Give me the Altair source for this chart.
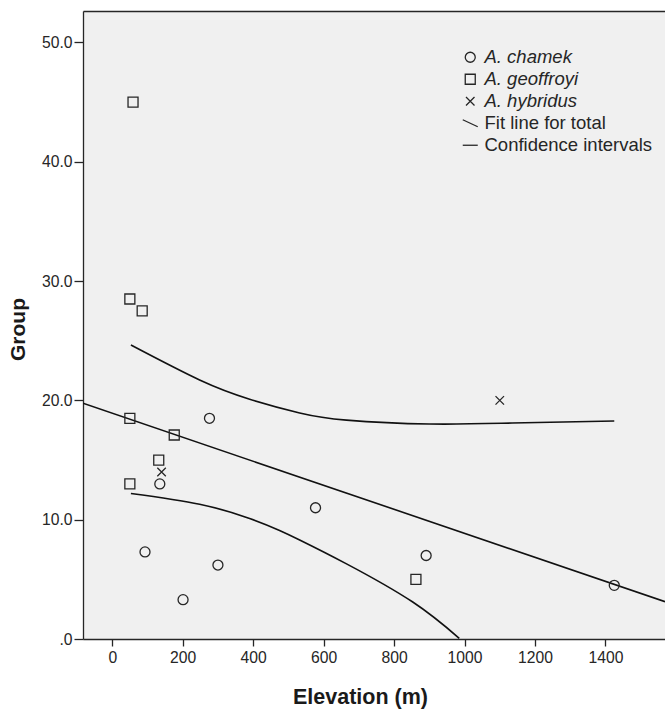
import altair as alt
import pandas as pd

# ---- data ----
chamek_x = [276, 135, 93, 300, 201, 577, 891, 1425]
chamek_y = [18.5, 13.0, 7.3, 6.2, 3.3, 11.0, 7.0, 4.5]
geoffroyi_x = [59, 50, 85, 50, 176, 132, 50, 862]
geoffroyi_y = [45.0, 28.5, 27.5, 18.5, 17.1, 15.0, 13.0, 5.0]
hybridus_x = [140, 1100]
hybridus_y = [14.0, 20.0]

fit_x = [-83, 1569]
fit_y = [19.76, 3.13]

ci_upper_x = [53, 248, 390, 532, 665, 900, 1135, 1425]
ci_upper_y = [24.64, 21.71, 20.1, 18.95, 18.35, 18.02, 18.1, 18.27]
ci_lower_x = [53, 248, 390, 475, 532, 665, 853, 985]
ci_lower_y = [12.2, 11.3, 10.1, 9.1, 8.3, 6.3, 3.1, 0.06]

series_names = ["A. chamek", "A. geoffroyi", "A. hybridus",
                "Fit line for total", "Confidence intervals"]
x_ticks = [0, 200, 400, 600, 800, 1000, 1200, 1400]
y_ticks = [0, 10, 20, 30, 40, 50]

# ---- tables ----
pts = pd.DataFrame({
    "elev": chamek_x + geoffroyi_x + hybridus_x,
    "group": chamek_y + geoffroyi_y + hybridus_y,
    "series": [series_names[0]] * len(chamek_x)
    + [series_names[1]] * len(geoffroyi_x)
    + [series_names[2]] * len(hybridus_x),
})
fit = pd.DataFrame({"elev": fit_x, "group": fit_y})
upper = pd.DataFrame({"elev": ci_upper_x, "group": ci_upper_y})
lower = pd.DataFrame({"elev": ci_lower_x, "group": ci_lower_y})

FONT = "Liberation Sans"
INK = "#262626"

xscale = alt.Scale(domain=[-83, 1569], nice=False, zero=False)
yscale = alt.Scale(domain=[0, 52.64], nice=False, zero=False)

x_axis_bottom = alt.Axis(
    orient="bottom", values=x_ticks, format="d", grid=False,
    domain=True, domainColor=INK, domainWidth=1.3,
    ticks=True, tickSize=7, tickColor=INK, tickWidth=1.3,
    labelFont=FONT, labelFontSize=15.7, labelColor=INK, labelPadding=4,
    title="Elevation (m)", titleFont=FONT, titleFontSize=21.5,
    titleFontWeight="bold", titleColor="#1a1a1a",
    titleX=277, titleY=64, titleBaseline="alphabetic", titleAlign="center",
)
x_axis_top = alt.Axis(
    orient="top", labels=False, ticks=False, grid=False, title=None,
    domain=True, domainColor=INK, domainWidth=1.3,
)
y_axis = alt.Axis(
    orient="left", values=y_ticks, grid=False,
    labelExpr="datum.value == 0 ? '.0' : format(datum.value, '.1f')",
    domain=True, domainColor=INK, domainWidth=1.3,
    ticks=True, tickSize=9, tickColor=INK, tickWidth=1.3,
    labelFont=FONT, labelFontSize=15.7, labelColor=INK, labelPadding=2,
    title="Group", titleFont=FONT, titleFontSize=21, titleFontWeight="bold",
    titleColor="#1a1a1a", titleX=-59, titleY=318, titleAngle=-90,
    titleBaseline="alphabetic", titleAlign="center",
)

Y = alt.Y("group:Q", scale=yscale, axis=y_axis)

IS_LINE = "datum.value == 'Fit line for total' || datum.value == 'Confidence intervals'"

legend = alt.Legend(
    orient="none", legendX=378, legendY=37, title=None, padding=0,
    labelFont=FONT, labelFontSize=18.5, labelColor=INK,
    labelFontStyle=alt.ExprRef(IS_LINE + " ? 'normal' : 'italic'"),
    labelOffset=5, rowPadding=3, labelLimit=400,
    symbolSize=100, symbolStrokeColor=INK, symbolStrokeWidth=1.3,
)

XPATH = "M-0.85,-0.85L0.85,0.85M-0.85,0.85L0.85,-0.85"
DIAG = "M-1.5,-0.7L1.5,0.7"
HORIZ = "M-1.5,0L1.5,0"

line_style = dict(color="#111111", strokeWidth=1.6, clip=True)

upper_layer = alt.Chart(upper).mark_line(interpolate="natural", **line_style).encode(
    x=alt.X("elev:Q", scale=xscale, axis=None), y=Y)
lower_layer = alt.Chart(lower).mark_line(interpolate="natural", **line_style).encode(
    x=alt.X("elev:Q", scale=xscale, axis=None), y=Y)
fit_layer = alt.Chart(fit).mark_line(**line_style).encode(
    x=alt.X("elev:Q", scale=xscale, axis=x_axis_top), y=Y)

point_layer = alt.Chart(pts).mark_point(
    filled=False, strokeWidth=1.3, color=INK, opacity=1, size=100
).encode(
    x=alt.X("elev:Q", scale=xscale, axis=x_axis_bottom),
    y=Y,
    shape=alt.Shape("series:N", scale=alt.Scale(
        domain=series_names, range=["circle", "square", XPATH, DIAG, HORIZ]),
        legend=legend),
)

chart = alt.layer(upper_layer, lower_layer, fit_layer, point_layer).resolve_axis(
    x="independent"
).properties(
    width=582, height=628,
    autosize=alt.AutoSizeParams(type="none"),
    padding={"left": 83, "top": 11, "right": 0, "bottom": 70},
    background="white",
).configure_view(
    stroke=None, fill="#f0f0f0"
)

chart.save("out.html", embed_options={"renderer": "svg", "actions": False})
